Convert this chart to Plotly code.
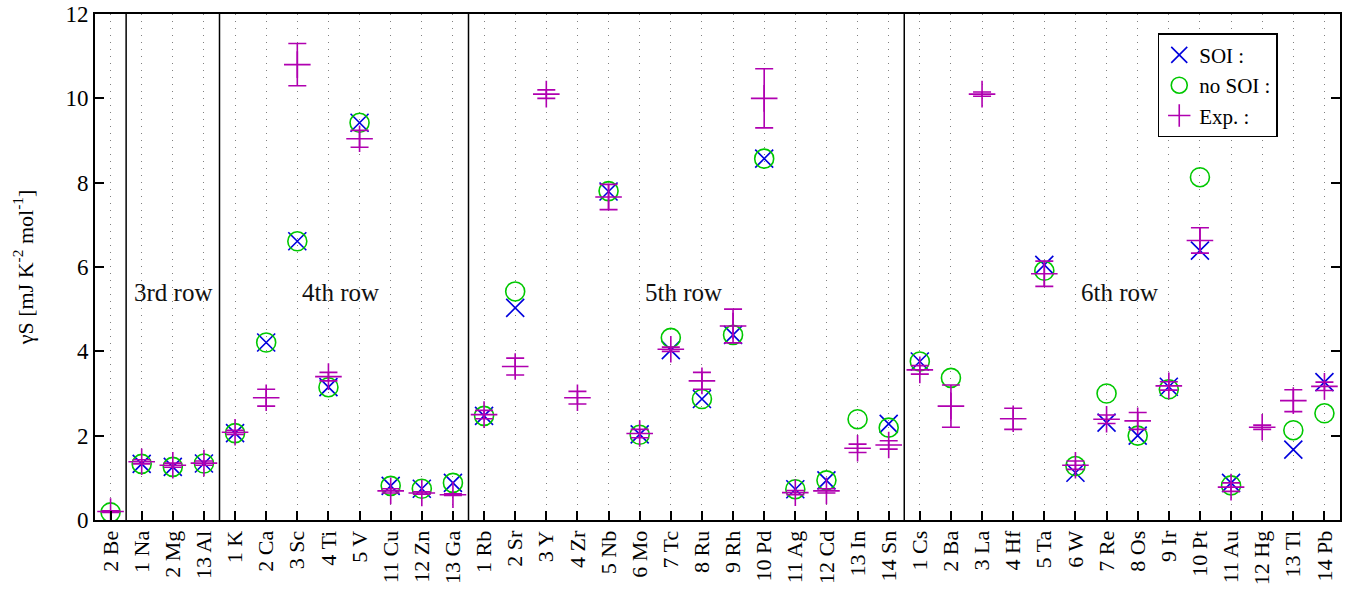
import plotly.graph_objects as go

elements = ["2 Be", "1 Na", "2 Mg", "13 Al", "1 K", "2 Ca", "3 Sc", "4 Ti", "5 V", "11 Cu",
            "12 Zn", "13 Ga", "1 Rb", "2 Sr", "3 Y", "4 Zr", "5 Nb", "6 Mo", "7 Tc", "8 Ru",
            "9 Rh", "10 Pd", "11 Ag", "12 Cd", "13 In", "14 Sn", "1 Cs", "2 Ba", "3 La", "4 Hf",
            "5 Ta", "6 W", "7 Re", "8 Os", "9 Ir", "10 Pt", "11 Au", "12 Hg", "13 Tl", "14 Pb"]

soi = [None, 1.33, 1.26, 1.34, 2.06, 4.21, 6.61, 3.15, 9.42, 0.81,
       0.74, 0.88, 2.47, 5.03, None, None, 7.79, 2.03, 4.03, 2.87,
       4.39, 8.57, 0.73, 0.94, None, 2.28, 3.76, None, None, None,
       6.05, 1.12, 2.31, 2.00, 3.16, 6.39, 0.88, None, 1.67, 3.27]

no_soi = [0.18, 1.33, 1.26, 1.34, 2.06, 4.21, 6.61, 3.15, 9.42, 0.81,
          0.74, 0.88, 2.47, 5.42, None, None, 7.80, 2.02, 4.32, 2.87,
          4.39, 8.57, 0.73, 0.94, 2.39, 2.19, 3.76, 3.37, None, None,
          5.91, 1.28, 3.00, 2.00, 3.10, 8.13, 0.82, None, 2.13, 2.53]

exp_val = [0.20, 1.38, 1.30, 1.35, 2.08, 2.90, 10.80, 3.40, 9.04, 0.69,
           0.64, 0.60, 2.50, 3.64, 10.10, 2.90, 7.66, 2.05, 4.05, 3.30,
           4.60, 10.00, 0.65, 0.69, 1.70, 1.78, 3.56, 2.70, 10.10, 2.40,
           5.84, 1.30, 2.39, 2.35, 3.18, 6.63, 0.78, 2.20, 2.83, 3.17]

exp_err = [0.02, 0.05, 0.05, 0.05, 0.05, 0.20, 0.50, 0.10, 0.20, 0.05,
           0.03, 0.02, 0.10, 0.20, 0.10, 0.15, 0.30, 0.10, 0.05, 0.20,
           0.40, 0.70, 0.05, 0.05, 0.10, 0.10, 0.10, 0.50, 0.05, 0.25,
           0.30, 0.10, 0.10, 0.20, 0.10, 0.30, 0.10, 0.05, 0.26, 0.10]

row_labels = ["3rd row", "4th row", "5th row", "6th row"]
row_label_x = [2.0, 7.4, 18.4, 32.4]
row_label_y = [5.4, 5.4, 5.4, 5.4]
row_separators = [0.5, 3.5, 11.5, 25.5]

BLUE = "#0000dd"
GREEN = "#00c800"
MAGENTA = "#b000b0"
FONT = "Liberation Serif"

xs = list(range(len(elements)))

fig = go.Figure()
fig.add_trace(go.Scatter(
    x=xs, y=soi, mode="markers", name="SOI :",
    marker=dict(symbol="x-thin-open", size=18, color=BLUE, line=dict(color=BLUE, width=1.6)),
))
fig.add_trace(go.Scatter(
    x=xs, y=no_soi, mode="markers", name="no SOI :",
    marker=dict(symbol="circle-open", size=19, color=GREEN, line=dict(color=GREEN, width=1.6)),
))
fig.add_trace(go.Scatter(
    x=xs, y=exp_val, mode="markers", name="Exp. :",
    marker=dict(symbol="cross-thin-open", size=19, color=MAGENTA, line=dict(color=MAGENTA, width=1.6)),
    error_y=dict(type="data", array=exp_err, visible=True, color=MAGENTA, thickness=1.6, width=9),
))

for xv in row_separators:
    fig.add_shape(type="line", x0=xv, x1=xv, y0=0, y1=12, xref="x", yref="y",
                  line=dict(color="black", width=1.5))

for t, xv, yv in zip(row_labels, row_label_x, row_label_y):
    fig.add_annotation(x=xv, y=yv, text=t, showarrow=False, xref="x", yref="y",
                       font=dict(family=FONT, size=25, color="#111111"))

fig.update_layout(
    width=1348, height=602,
    margin=dict(l=95, r=8, t=14, b=82),
    plot_bgcolor="white", paper_bgcolor="white",
    font=dict(family=FONT, size=20, color="black"),
    legend=dict(
        x=0.95, y=0.962, xanchor="right", yanchor="top",
        bgcolor="white", bordercolor="black", borderwidth=1.5,
        font=dict(family=FONT, size=21), tracegroupgap=0, itemwidth=30,
    ),
    showlegend=True,
)

fig.update_xaxes(
    range=[-0.5, len(elements) - 0.5], automargin=False,
    tickmode="array", tickvals=xs, ticktext=elements, tickangle=-90,
    tickfont=dict(family=FONT, size=22), ticklabeloverflow="allow",
    ticks="inside", ticklen=9, tickcolor="black", tickwidth=1.5,
    showgrid=True, gridcolor="#808080", griddash="1px,6px", gridwidth=1,
    showline=True, linecolor="black", linewidth=2, mirror=True,
    zeroline=False,
)
fig.update_yaxes(
    range=[0, 12], dtick=2, tick0=0, automargin=False,
    tickfont=dict(family=FONT, size=23), ticklabeloverflow="allow",
    ticks="inside", ticklen=9, tickcolor="black", tickwidth=1.5,
    showgrid=False,
    showline=True, linecolor="black", linewidth=2, mirror="ticks",
    zeroline=False,
    title=dict(text="γS [mJ K<sup>-2</sup> mol<sup>-1</sup>]", font=dict(family=FONT, size=22), standoff=26),
)

# remove the browser's default 8px body margin so the figure fills the window exactly
fig.write_html("out.html", config={"displayModeBar": False},
               post_script="document.body.style.margin='0px';")
